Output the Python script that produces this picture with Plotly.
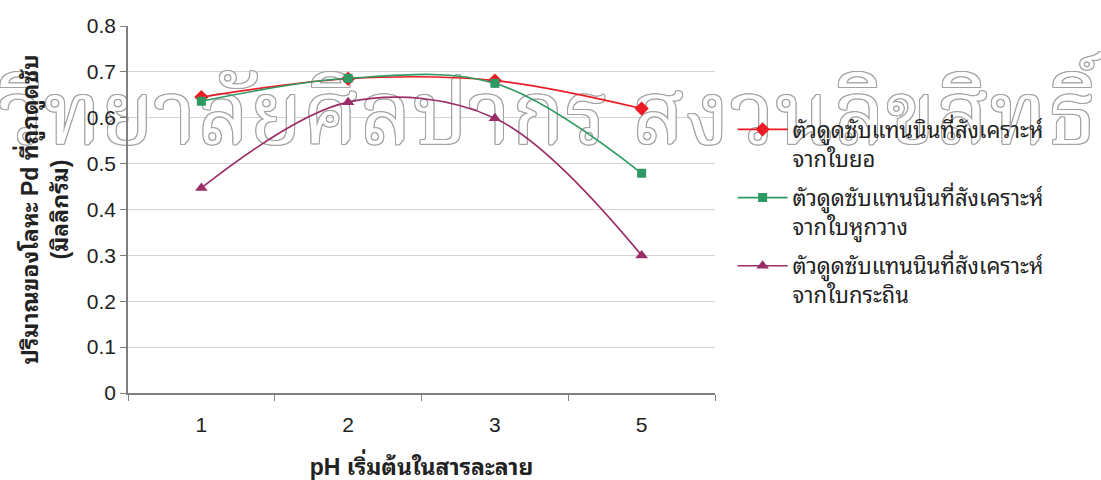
import plotly.graph_objects as go

# pH categories on the x axis
ph_labels = ["1", "2", "3", "5"]

# Pd adsorbed (mg) for each adsorbent
yor_leaf = [0.645, 0.685, 0.681, 0.620]
hukwang_leaf = [0.636, 0.686, 0.675, 0.479]
krathin_leaf = [0.447, 0.634, 0.599, 0.300]

series_names = [
    "ตัวดูดซับแทนนินที่สังเคราะห์<br>จากใบยอ",
    "ตัวดูดซับแทนนินที่สังเคราะห์<br>จากใบหูกวาง",
    "ตัวดูดซับแทนนินที่สังเคราะห์<br>จากใบกระถิน",
]

y_ticks = [0, 0.1, 0.2, 0.3, 0.4, 0.5, 0.6, 0.7, 0.8]
y_ticktext = ["0", "0.1", "0.2", "0.3", "0.4", "0.5", "0.6", "0.7", "0.8"]

watermark = "วิทยาลัยศิลปากร สงวนลิขสิทธิ์"

xpos = list(range(len(ph_labels)))
FONT = "'Liberation Sans', Arial, 'Noto Sans Thai Looped', sans-serif"
THAI_WM_FONT = "'Noto Serif Thai', serif"

fig = go.Figure()

# background watermark, drawn first so the data lines sit above it
outline = ", ".join(
    f"{dx}px {dy}px 0 #a3a3a3"
    for dx, dy in [(-1, -1), (1, -1), (-1, 1), (1, 1), (0, -1), (0, 1), (-1, 0), (1, 0)]
)
fig.add_trace(go.Scatter(
    x=[2.36], y=[0.592], mode="text", text=[watermark],
    textposition="middle center",
    textfont=dict(family=THAI_WM_FONT, size=88, color="white", shadow=outline),
    cliponaxis=False, hoverinfo="skip", showlegend=False,
))

styles = [
    dict(color="#ED1C24", symbol="diamond", size=11),
    dict(color="#2E9A62", symbol="square", size=9),
    dict(color="#9B2D68", symbol="triangle-up", size=11),
]

for i, (vals, name, st) in enumerate(zip([yor_leaf, hukwang_leaf, krathin_leaf], series_names, styles)):
    fig.add_trace(go.Scatter(
        x=xpos, y=vals, name=name, mode="lines+markers", legendgroup=f"g{i}",
        line=dict(color=st["color"], width=1.6, shape="spline", smoothing=1.0),
        marker=dict(color=st["color"], symbol=st["symbol"], size=st["size"]),
        cliponaxis=False,
    ))

fig.update_layout(
    width=1101, height=480,
    margin=dict(l=128, r=386, t=26, b=87),
    paper_bgcolor="white", plot_bgcolor="white",
    font=dict(family=FONT, size=21, color="#222222"),
    legend=dict(
        x=1.03, y=0.775, xanchor="left", yanchor="top",
        font=dict(size=22, color="#222222"),
        itemwidth=50, valign="top", tracegroupgap=8,
        bgcolor="rgba(0,0,0,0)",
    ),
    xaxis=dict(
        range=[-0.5, 3.5], tickvals=xpos, ticktext=ph_labels,
        ticks="", showgrid=False, zeroline=False, automargin=False,
        showline=True, linecolor="#808080", linewidth=1.5,
        minor=dict(tick0=-0.5, dtick=1, ticks="outside", ticklen=6,
                   tickcolor="#808080", tickwidth=1.2, showgrid=False),
        tickfont=dict(size=21), ticklabelstandoff=12,
        title=dict(text="<b>pH เริ่มต้นในสารละลาย</b>", font=dict(size=23), standoff=24),
    ),
    yaxis=dict(
        range=[0, 0.8], tickvals=y_ticks, ticktext=y_ticktext, automargin=False,
        ticks="outside", ticklen=6, tickcolor="#808080", tickwidth=1.2,
        showgrid=True, gridcolor="#d4d4d4", gridwidth=1,
        zeroline=False, showline=True, linecolor="#808080", linewidth=1.5,
        tickfont=dict(size=21),
        title=dict(text="<b>ปริมาณของโลหะ Pd ที่ถูกดูดซับ<br>(มิลลิกรัม)</b>",
                   font=dict(size=23), standoff=12),
    ),
)

fig.write_html("out.html")
